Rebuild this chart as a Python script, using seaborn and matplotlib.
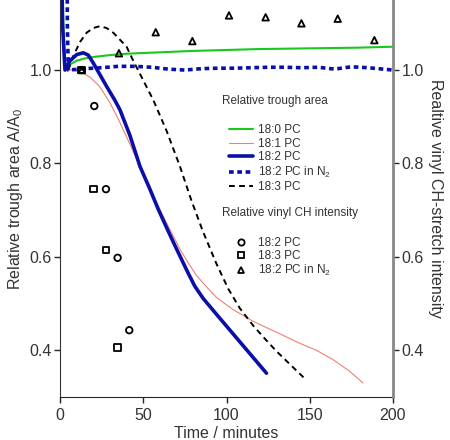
import numpy as np
import pandas as pd
import seaborn as sns
import matplotlib.pyplot as plt
from matplotlib.lines import Line2D

# trough area curves (A/A0) vs time in minutes
t_180 = [1.0, 2.0, 3, 6, 10, 15, 20, 30, 40, 60, 80, 100, 120, 140, 160, 180, 200]
a_180 = [1.3, 1.1, 1.0, 1.012, 1.02, 1.025, 1.028, 1.032, 1.035, 1.038, 1.041, 1.043, 1.045, 1.046, 1.047, 1.048, 1.05]

t_181 = [3, 8, 13, 18, 24, 30, 35, 40, 46, 54, 63, 72, 77, 82, 89, 94, 104, 116, 125, 134, 144, 154, 164, 174, 182]
a_181 = [1.0, 1.0, 0.995, 0.985, 0.964, 0.93, 0.895, 0.857, 0.81, 0.745, 0.68, 0.617, 0.587, 0.56, 0.532, 0.513,
         0.487, 0.462, 0.447, 0.432, 0.415, 0.40, 0.38, 0.355, 0.33]

t_182 = [0.8, 1.5, 3, 6, 10, 14, 17, 20, 24, 28, 33, 36, 42, 48, 54, 59, 65, 70, 77, 81, 86, 94, 104, 114, 124]
a_182 = [1.3, 1.1, 1.0, 1.02, 1.033, 1.037, 1.032, 1.015, 0.99, 0.965, 0.935, 0.915, 0.86, 0.794, 0.745, 0.702,
         0.655, 0.617, 0.565, 0.537, 0.511, 0.477, 0.435, 0.393, 0.351]

t_182n = [4.2, 4.4, 5, 15, 25, 35, 45, 55, 65, 75, 85, 95, 105, 115, 125, 135, 145, 155, 165, 175, 185, 200]
a_182n = [1.3, 1.1, 1.0, 1.003, 1.005, 1.008, 1.008, 1.006, 1.002, 1.0, 1.003, 1.004, 1.004, 1.005, 1.006, 1.006,
          1.005, 1.006, 1.002, 1.007, 1.005, 1.0]

t_183 = [5, 8, 12, 16, 20, 24, 28, 32, 36, 40, 44, 49, 56, 64, 72, 79, 86, 94, 101, 108, 116, 123, 130, 139, 148]
a_183 = [1.0, 1.03, 1.06, 1.08, 1.09, 1.094, 1.09, 1.08, 1.065, 1.05, 1.02, 0.985, 0.936, 0.87, 0.794, 0.72,
         0.653, 0.585, 0.532, 0.49, 0.453, 0.425, 0.398, 0.367, 0.336]

# vinyl CH-stretch intensity points
t_ch_182 = [13, 20.6, 27.6, 34.6, 41.6]
i_ch_182 = [1.0, 0.923, 0.745, 0.598, 0.443]
t_ch_183 = [13, 20, 27.6, 34.6]
i_ch_183 = [1.0, 0.745, 0.615, 0.406]
t_ch_n2 = [13, 35.4, 57.5, 79.5, 101.5, 123.5, 145, 166.8, 188.8]
i_ch_n2 = [1.0, 1.036, 1.081, 1.062, 1.117, 1.113, 1.10, 1.11, 1.064]

sns.set_style("ticks")
plt.rcParams['font.family'] = ['Liberation Sans', 'DejaVu Sans']
plt.rcParams['mathtext.fontset'] = 'custom'
plt.rcParams['mathtext.rm'] = 'Liberation Sans'

fig = plt.figure(figsize=(4.5, 4.4), dpi=100)
ax = fig.add_axes([60/450, 43/440, 333/450, 397/440])

green = '#19c81e'
red = '#f08070'
blue = '#0a0fa8'
txt = '#333333'

sns.lineplot(x=t_180, y=a_180, ax=ax, color=green, lw=1.5, sort=False, estimator=None)
sns.lineplot(x=t_181, y=a_181, ax=ax, color=red, lw=0.8, sort=False, estimator=None)
sns.lineplot(x=t_183, y=a_183, ax=ax, color='black', lw=1.4, sort=False, estimator=None)
ax.lines[-1].set_dashes((3, 2.2))
sns.lineplot(x=t_182n, y=a_182n, ax=ax, color=blue, lw=2.6, sort=False, estimator=None)
ax.lines[-1].set_dashes((1.3, 1.0))
sns.lineplot(x=t_182, y=a_182, ax=ax, color=blue, lw=2.6, sort=False, estimator=None)

ax.set_xlim(0, 200)
ax.set_ylim(0.30, 1.15)
ax.set_xticks([0, 50, 100, 150, 200])
ax.set_yticks([0.4, 0.6, 0.8, 1.0])
ax.set_yticklabels(['0.4', '0.6', '0.8', '1.0'])
ax.tick_params(labelsize=11.5, length=4, width=1, labelcolor=txt, pad=2)
ax.tick_params(axis='x', pad=4)
ax.set_xlabel('Time / minutes', fontsize=11.5, labelpad=2, color=txt)
ax.set_ylabel('Relative trough area A/A$_0$', fontsize=11.5, labelpad=3, color=txt)
ax.spines['top'].set_visible(False)
ax.spines['right'].set_visible(False)
ax.spines['left'].set_color('#333333')

ax2 = ax.twinx()
ax2.set_ylim(0.30, 1.15)
ax2.set_yticks([0.4, 0.6, 0.8, 1.0])
ax2.set_yticklabels(['0.4', '0.6', '0.8', '1.0'])
ax2.tick_params(labelsize=11.5, length=4, width=1, labelcolor=txt, pad=2)
for sp in ['top', 'left', 'bottom']:
    ax2.spines[sp].set_visible(False)
ax2.spines['right'].set_color('#888888')
ax2.spines['right'].set_linewidth(2)
ax2.set_ylabel('Realtive vinyl CH-stretch intensity', fontsize=11.5, rotation=270,
               labelpad=14, color=txt)

mk = dict(facecolor='none', edgecolor='black', linewidth=1.3, s=22, ax=ax2, clip_on=False)
sns.scatterplot(x=t_ch_182, y=i_ch_182, marker='o', **mk)
sns.scatterplot(x=t_ch_183, y=i_ch_183, marker='s', **mk)
sns.scatterplot(x=t_ch_n2, y=i_ch_n2, marker='^', **mk)

ax2.text(0.486, 0.746, 'Relative trough area', transform=ax2.transAxes,
         fontsize=8.5, va='center', ha='left', color=txt)
ax2.text(0.486, 0.463, 'Relative vinyl CH intensity', transform=ax2.transAxes,
         fontsize=8.5, va='center', ha='left', color=txt)

h1 = [Line2D([], [], color=green, lw=1.5),
      Line2D([], [], color=red, lw=0.8),
      Line2D([], [], color=blue, lw=2.6),
      Line2D([], [], color=blue, lw=2.6, dashes=(1.3, 1.0)),
      Line2D([], [], color='black', lw=1.4, dashes=(3, 2.2))]
lab1 = ['18:0 PC', '18:1 PC', '18:2 PC', '18:2 PC in N$_2$', '18:3 PC']
leg1 = ax2.legend(h1, lab1, loc='upper left',
                  bbox_to_anchor=(0.476, 0.714), frameon=False, fontsize=8.5,
                  handlelength=2.0, handletextpad=0.42, labelspacing=0.13,
                  labelcolor=txt)
ax2.add_artist(leg1)

h2 = [Line2D([], [], ls='none', marker=m, mfc='none', mec='black', mew=1.3, ms=4.5)
      for m in ['o', 's', '^']]
lab2 = ['18:2 PC', '18:3 PC', '18:2 PC in N$_2$']
ax2.legend(h2, lab2, loc='upper left',
           bbox_to_anchor=(0.476, 0.43), frameon=False, fontsize=8.5,
           handlelength=2.0, handletextpad=0.42, labelspacing=0.08,
           labelcolor=txt)

fig.savefig('out.png', dpi=100)
